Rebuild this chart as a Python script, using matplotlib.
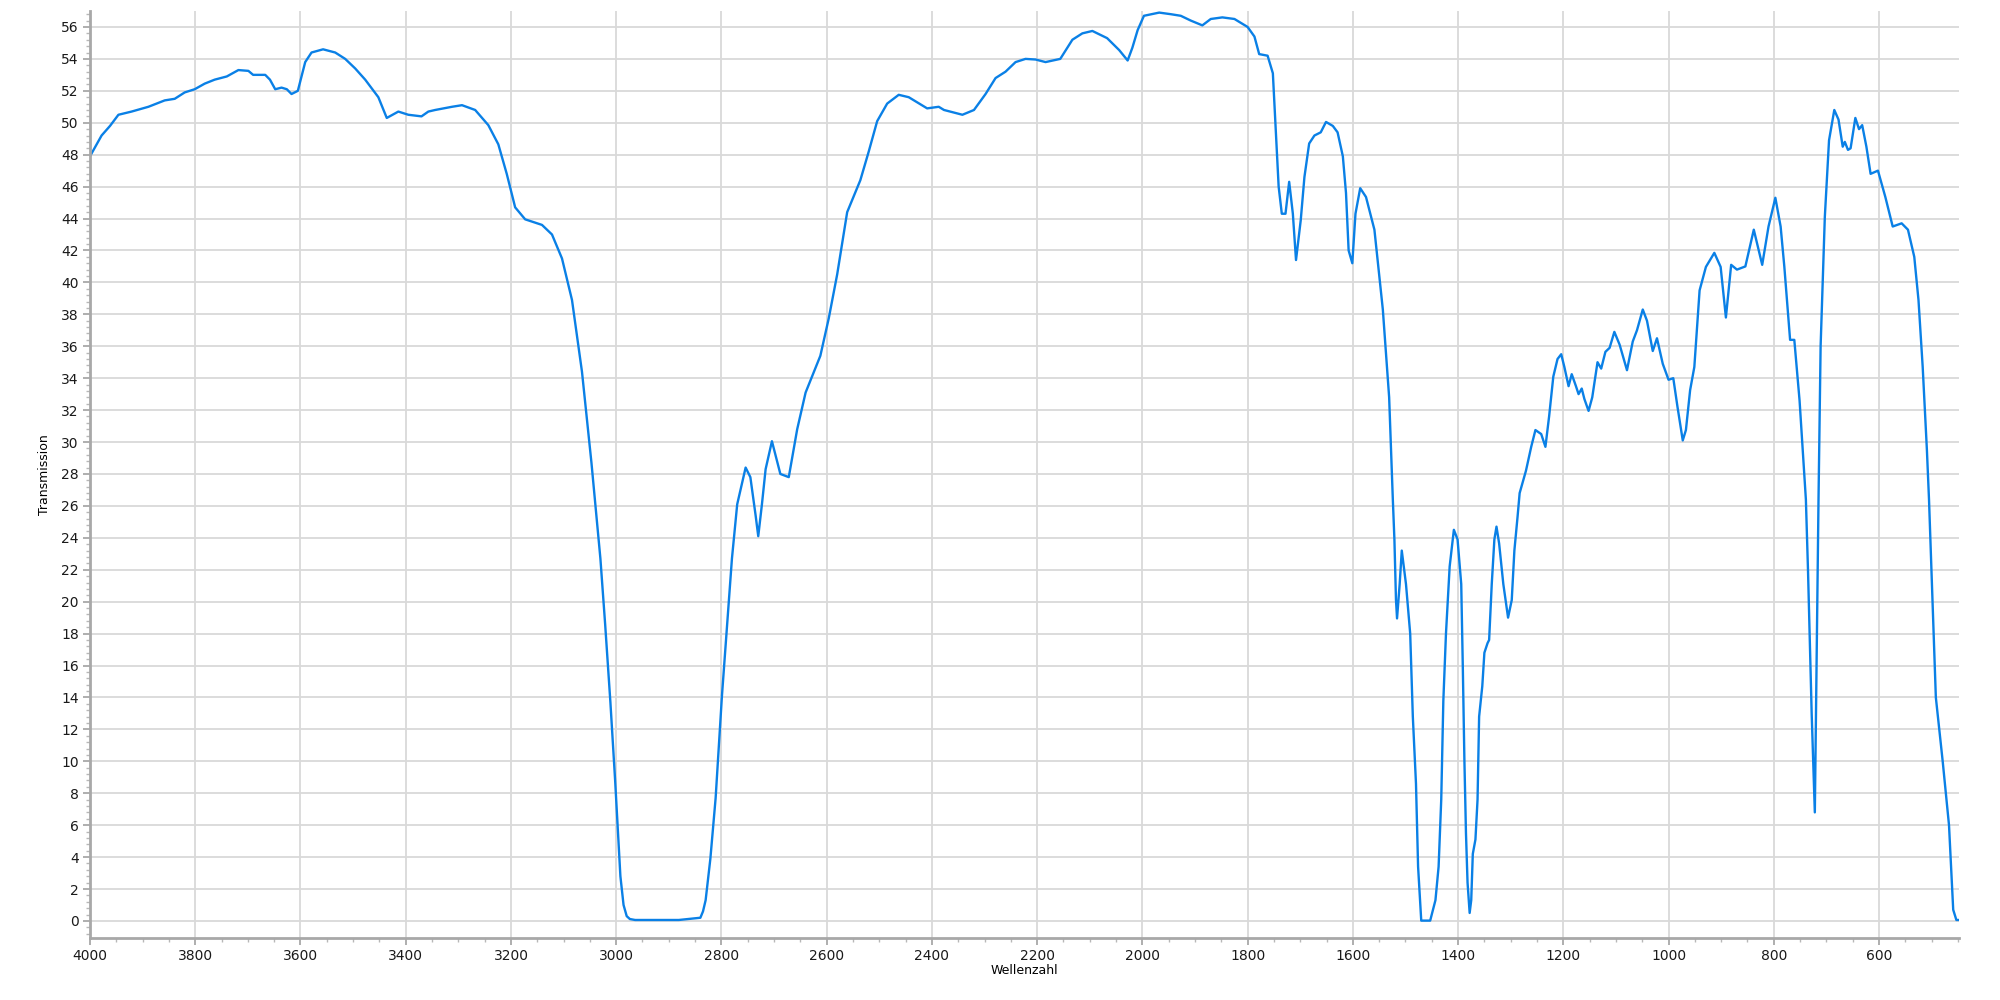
import numpy as np
import matplotlib.pyplot as plt
from matplotlib.ticker import MultipleLocator, AutoMinorLocator

# IR spectrum (wavenumber in 1/cm, transmission in %)
wellenzahl = [
    4000, 3978, 3962, 3946, 3921, 3889, 3858, 3839, 3820, 3801, 3782, 3763, 3740,
    3718, 3699, 3690, 3667, 3658, 3648, 3636, 3626, 3617, 3605, 3591, 3579, 3557,
    3534, 3515, 3496, 3477, 3452, 3436, 3414, 3395, 3370, 3357, 3344, 3312, 3293,
    3268, 3243, 3224, 3208, 3192, 3173, 3141, 3122, 3103, 3084, 3065, 3047, 3030,
    3021, 3011, 3002, 2992, 2986, 2980, 2974, 2964, 2881, 2840, 2835, 2830, 2821, 2811, 2799, 2789,
    2780, 2770, 2754, 2745, 2735, 2730, 2723, 2716, 2704, 2688, 2672, 2656, 2640,
    2612, 2596, 2580, 2561, 2536, 2520, 2504, 2485, 2463, 2444, 2409, 2387, 2377,
    2342, 2320, 2298, 2279, 2260, 2241, 2222, 2203, 2184, 2156, 2133, 2114, 2095,
    2067, 2044, 2028, 2019, 2009, 1997, 1968, 1946, 1927, 1908, 1886, 1870, 1848,
    1825, 1800, 1787, 1778, 1762, 1752, 1746, 1741, 1735, 1728, 1721, 1714, 1708,
    1699, 1692, 1683, 1673, 1661, 1651, 1638, 1629, 1619, 1613, 1608, 1601, 1595,
    1586, 1575, 1559, 1543, 1531, 1524, 1521, 1518, 1516, 1511, 1507, 1499, 1491,
    1486, 1480, 1476, 1470, 1453, 1443, 1437, 1432, 1428, 1423, 1416, 1408, 1401,
    1394, 1391, 1388, 1385, 1382, 1378, 1375, 1372, 1367, 1363, 1360, 1354, 1350,
    1344, 1341, 1336, 1331, 1327, 1322, 1314, 1305, 1298, 1293, 1287, 1283, 1271,
    1261, 1253, 1242, 1234, 1227, 1219, 1211, 1204, 1198, 1190, 1184, 1176, 1171,
    1165, 1160, 1152, 1145, 1135, 1128, 1120, 1112, 1103, 1093, 1079, 1068, 1060,
    1049, 1041, 1030, 1022, 1011, 1000, 991, 983, 973, 967, 959, 951, 941, 929,
    913, 901, 891, 881, 870, 854, 838, 822, 810, 797, 787, 780, 769, 761, 751,
    739, 735, 728, 722, 719, 715, 711, 703, 695, 685, 677, 669, 665, 659, 654,
    645, 638, 632, 624, 616, 602, 588, 574, 557, 545, 533, 525, 517, 509, 505,
    492, 479, 467, 459, 453, 448,
]
transmission = [
    47.9, 49.2, 49.8, 50.5, 50.7, 51.0, 51.4, 51.5, 51.9, 52.1, 52.45, 52.7, 52.9,
    53.3, 53.25, 53.0, 53.0, 52.7, 52.1, 52.2, 52.1, 51.8, 52.0, 53.8, 54.4, 54.6,
    54.4, 54.0, 53.4, 52.7, 51.6, 50.3, 50.7, 50.5, 50.4, 50.7, 50.8, 51.0, 51.1,
    50.8, 49.85, 48.65, 46.8, 44.7, 43.95, 43.6, 43.0, 41.5, 38.9, 34.4, 28.7, 22.7,
    18.6, 13.7, 8.8, 2.8, 1.0, 0.3, 0.12, 0.06, 0.06, 0.2, 0.6, 1.3, 3.9, 7.7, 14.1, 18.6,
    22.7, 26.1, 28.4, 27.8, 25.4, 24.1, 26.1, 28.3, 30.05, 28.0, 27.8, 30.8, 33.1,
    35.4, 37.75, 40.5, 44.4, 46.4, 48.2, 50.1, 51.2, 51.75, 51.6, 50.9, 51.0, 50.8,
    50.5, 50.8, 51.8, 52.8, 53.2, 53.8, 54.0, 53.96, 53.8, 54.0, 55.2, 55.6, 55.75,
    55.3, 54.55, 53.9, 54.7, 55.8, 56.7, 56.9, 56.8, 56.7, 56.4, 56.1, 56.5, 56.6,
    56.5, 56.0, 55.4, 54.3, 54.2, 53.1, 49.3, 46.0, 44.3, 44.3, 46.3, 44.3, 41.4,
    43.9, 46.6, 48.7, 49.2, 49.4, 50.05, 49.8, 49.4, 47.9, 45.6, 42.0, 41.2, 44.3,
    45.9, 45.35, 43.3, 38.3, 32.8, 26.4, 23.9, 20.1, 18.95, 21.1, 23.2, 21.1, 18.0,
    12.8, 8.6, 3.4, 0.02, 0.02, 1.3, 3.4, 7.6, 13.8, 18.0, 22.2, 24.5, 23.9,
    21.1, 15.9, 10.1, 5.5, 2.4, 0.5, 1.3, 4.2, 5.1, 7.6, 12.8, 14.7, 16.8,
    17.4, 17.6, 21.1, 23.9, 24.7, 23.65, 21.1, 19.0, 20.1, 23.2, 25.3, 26.8, 28.2,
    29.7, 30.75, 30.5, 29.7, 31.6, 34.1, 35.2, 35.5, 34.7, 33.5, 34.25, 33.5, 33.0,
    33.35, 32.7, 31.95, 32.8, 35.0, 34.6, 35.65, 35.9, 36.9, 36.1, 34.5, 36.3, 37.0,
    38.3, 37.6, 35.7, 36.5, 34.9, 33.9, 34.0, 32.2, 30.1, 30.75, 33.25, 34.7, 39.5, 40.97,
    41.85, 40.97, 37.8, 41.1, 40.8, 41.0, 43.3, 41.1, 43.5, 45.3, 43.5, 41.0, 36.4, 36.4, 32.6,
    26.4, 22.0, 13.0, 6.8, 15.0, 26.4, 36.0, 44.1, 48.9, 50.8, 50.2, 48.5, 48.8, 48.3, 48.4,
    50.3, 49.6, 49.85, 48.5, 46.8, 47.0, 45.35, 43.5, 43.7, 43.3, 41.6, 38.9, 34.7, 29.5, 26.4,
    14.0, 10.0, 6.0, 0.7, 0.06, 0.06,
]

fig = plt.figure(figsize=(20, 10), dpi=100)
ax = fig.add_axes([0.045, 0.0623, 0.9345, 0.9267])

ax.plot(wellenzahl, transmission, color='#0a80e6', lw=1.7)

ax.set_xlim(4000, 448)
ax.set_ylim(-1.05, 57.0)
ax.xaxis.set_major_locator(MultipleLocator(200))
ax.xaxis.set_minor_locator(AutoMinorLocator(4))
ax.yaxis.set_major_locator(MultipleLocator(2))
ax.yaxis.set_minor_locator(AutoMinorLocator(5))

ax.grid(True, which='major', color='#d9d9d9', lw=1.3)
ax.set_axisbelow(True)
for s in ['top', 'right']:
    ax.spines[s].set_visible(False)
for s in ['left', 'bottom']:
    ax.spines[s].set_color('#a8a8a8')
    ax.spines[s].set_linewidth(2)

ax.tick_params(which='major', direction='out', length=5, width=1.3, color='#a8a8a8',
               labelsize=10, labelcolor='#1a1a1a', pad=3)
ax.tick_params(which='minor', direction='out', length=3, width=1.0, color='#b8b8b8')

ax.set_xlabel('Wellenzahl', fontsize=9, labelpad=1)
ax.set_ylabel('Transmission', fontsize=9, labelpad=7)

fig.savefig('out.png', dpi=100, facecolor='white')
